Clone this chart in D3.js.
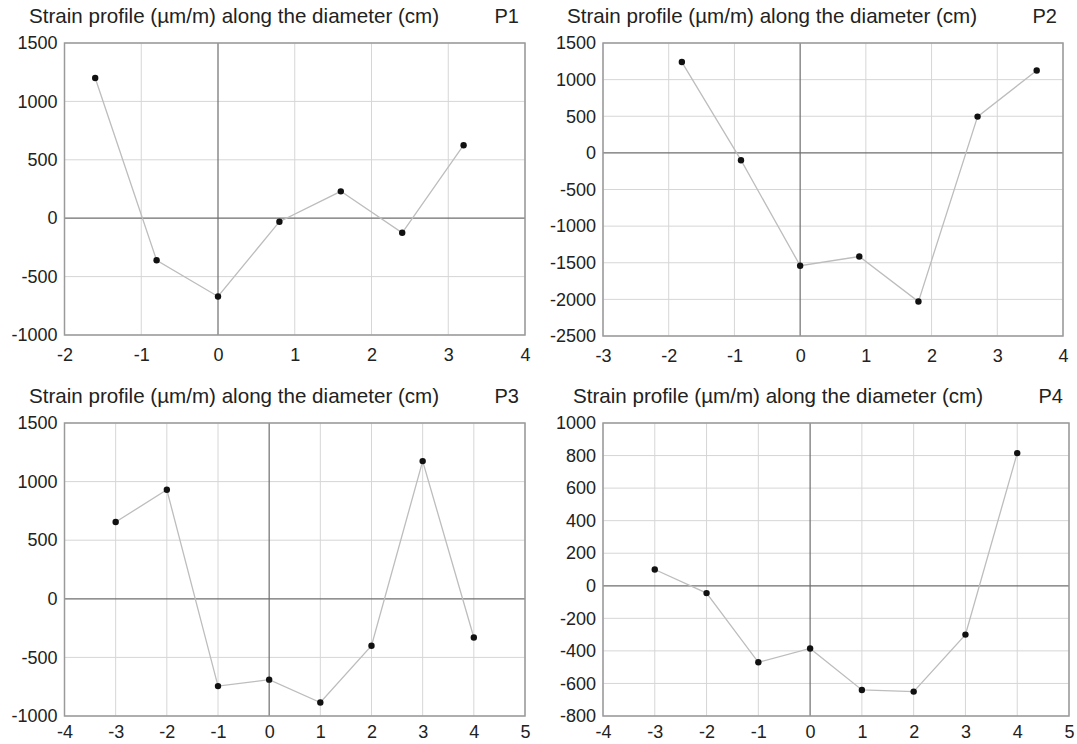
<!DOCTYPE html>
<html>
<head>
<meta charset="utf-8">
<script src="https://cdn.jsdelivr.net/npm/d3@7"></script>
<style>
  html, body { margin: 0; padding: 0; background: #fff; }
  svg { display: block; }
  text { font-family: "Liberation Sans", Arial, sans-serif; fill: #222; }
</style>
</head>
<body>
<svg id="chart" width="1077" height="744"></svg>
<script>
// ---- Data ----
const titleText = "Strain profile (µm/m) along the diameter (cm)";
const panelNames = ["P1", "P2", "P3", "P4"];

const p1X = [-1.6, -0.8, 0, 0.8, 1.6, 2.4, 3.2];
const p1Y = [1200, -360, -670, -30, 230, -125, 625];

const p2X = [-1.8, -0.9, 0, 0.9, 1.8, 2.7, 3.6];
const p2Y = [1240, -100, -1540, -1415, -2030, 495, 1125];

const p3X = [-3, -2, -1, 0, 1, 2, 3, 4];
const p3Y = [655, 930, -745, -690, -885, -400, 1175, -330];

const p4X = [-3, -2, -1, 0, 1, 2, 3, 4];
const p4Y = [100, -45, -470, -385, -640, -650, -300, 815];

const p1XTicks = [-2, -1, 0, 1, 2, 3, 4];
const p2XTicks = [-3, -2, -1, 0, 1, 2, 3, 4];
const p3XTicks = [-4, -3, -2, -1, 0, 1, 2, 3, 4, 5];
const p4XTicks = [-4, -3, -2, -1, 0, 1, 2, 3, 4, 5];

const p1YTicks = [-1000, -500, 0, 500, 1000, 1500];
const p2YTicks = [-2500, -2000, -1500, -1000, -500, 0, 500, 1000, 1500];
const p3YTicks = [-1000, -500, 0, 500, 1000, 1500];
const p4YTicks = [-800, -600, -400, -200, 0, 200, 400, 600, 800, 1000];

// ---- Layout (positions only) ----
const boxes = [
  { l: 64.5, r: 525, t: 43, b: 335, titleX: 29, titleY: 23, nameX: 519, pad: 13 },
  { l: 603, r: 1063, t: 43, b: 336, titleX: 567, titleY: 23, nameX: 1057, pad: 13 },
  { l: 64.5, r: 525, t: 423, b: 716, titleX: 29, titleY: 403, nameX: 519, pad: 9 },
  { l: 603, r: 1069, t: 423, b: 716, titleX: 573, titleY: 403, nameX: 1063, pad: 9 }
];

const panels = [
  { name: panelNames[0], xs: p1X, ys: p1Y, xt: p1XTicks, yt: p1YTicks },
  { name: panelNames[1], xs: p2X, ys: p2Y, xt: p2XTicks, yt: p2YTicks },
  { name: panelNames[2], xs: p3X, ys: p3Y, xt: p3XTicks, yt: p3YTicks },
  { name: panelNames[3], xs: p4X, ys: p4Y, xt: p4XTicks, yt: p4YTicks }
];

const svg = d3.select("#chart");
const fmt = d => (d < 0 ? "-" : "") + Math.abs(d);

panels.forEach((p, i) => {
  const bx = boxes[i];
  const x = d3.scaleLinear().domain(d3.extent(p.xt)).range([bx.l, bx.r]);
  const y = d3.scaleLinear().domain(d3.extent(p.yt)).range([bx.b, bx.t]);
  const g = svg.append("g");

  // grid
  g.append("g").selectAll("line").data(p.xt.filter(v => v !== 0))
    .join("line")
    .attr("x1", d => x(d)).attr("x2", d => x(d))
    .attr("y1", bx.t).attr("y2", bx.b)
    .attr("stroke", "#d6d6d6").attr("stroke-width", 1);
  g.append("g").selectAll("line").data(p.yt.filter(v => v !== 0))
    .join("line")
    .attr("y1", d => y(d)).attr("y2", d => y(d))
    .attr("x1", bx.l).attr("x2", bx.r)
    .attr("stroke", "#d6d6d6").attr("stroke-width", 1);

  // zero axes
  g.append("line")
    .attr("x1", x(0)).attr("x2", x(0)).attr("y1", bx.t).attr("y2", bx.b)
    .attr("stroke", "#6e6e6e").attr("stroke-width", 1.2);
  g.append("line")
    .attr("y1", y(0)).attr("y2", y(0)).attr("x1", bx.l).attr("x2", bx.r)
    .attr("stroke", "#6e6e6e").attr("stroke-width", 1.2);

  // frame
  g.append("rect")
    .attr("x", bx.l).attr("y", bx.t)
    .attr("width", bx.r - bx.l).attr("height", bx.b - bx.t)
    .attr("fill", "none").attr("stroke", "#9a9a9a").attr("stroke-width", 1.5);

  // axes (labels only)
  const xAxis = d3.axisBottom(x).tickValues(p.xt).tickFormat(fmt).tickSize(0).tickPadding(bx.pad);
  const yAxis = d3.axisLeft(y).tickValues(p.yt).tickFormat(fmt).tickSize(0).tickPadding(7);
  const xa = g.append("g").attr("transform", `translate(0,${bx.b})`).call(xAxis);
  const ya = g.append("g").attr("transform", `translate(${bx.l},0)`).call(yAxis);
  [xa, ya].forEach(a => {
    a.select(".domain").remove();
    a.selectAll("text").attr("font-size", 18).attr("fill", "#222")
      .attr("font-family", '"Liberation Sans", Arial, sans-serif');
  });

  // data line
  const pts = p.xs.map((v, k) => [v, p.ys[k]]);
  g.append("path")
    .datum(pts)
    .attr("d", d3.line().x(d => x(d[0])).y(d => y(d[1])))
    .attr("fill", "none").attr("stroke", "#bdbdbd").attr("stroke-width", 1.3);

  g.append("g").selectAll("circle").data(pts).join("circle")
    .attr("cx", d => x(d[0])).attr("cy", d => y(d[1]))
    .attr("r", 3.2).attr("fill", "#111");

  // titles
  g.append("text").attr("x", bx.titleX).attr("y", bx.titleY)
    .attr("font-size", 20.6).text(titleText);
  g.append("text").attr("x", bx.nameX).attr("y", bx.titleY)
    .attr("text-anchor", "end").attr("font-size", 20).text(p.name);
});
</script>
</body>
</html>
